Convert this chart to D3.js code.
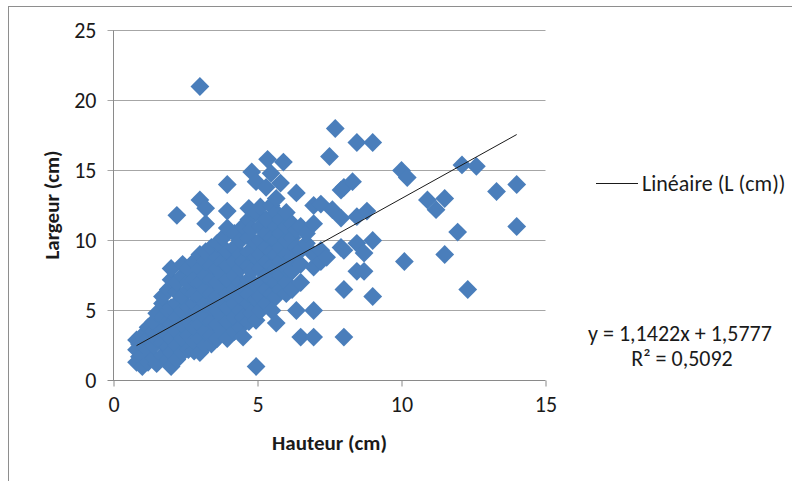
<!DOCTYPE html>
<html>
<head>
<meta charset="utf-8">
<script src="https://cdn.jsdelivr.net/npm/d3@7"></script>
<style>
    body { margin: 0; background: #fff; }
    text { font-family: Carlito, Calibri, Lato, sans-serif; fill: #1a1a1a; }
</style>
</head>
<body>
<svg id="chart" width="792" height="481"></svg>
<script>
    // hauteur (cm) values, each with the largeur (cm) values measured at that hauteur
    var hauteurs = [0.8, 0.9, 1.0, 1.2, 1.4, 1.5, 1.7, 1.9, 2.0, 2.2, 2.4, 2.6, 2.8, 3.0, 3.2, 3.4, 3.6, 3.8, 3.95,
        4.2, 4.4, 4.5, 4.7, 4.8, 4.95, 5.1, 5.3, 5.35, 5.47, 5.5, 5.65, 5.8, 5.9, 6.0, 6.2, 6.35, 6.5, 6.7, 6.95,
        7.2, 7.4, 7.5, 7.6, 7.7, 7.9, 8.0, 8.3, 8.45, 8.7, 8.8, 9.0, 10.0, 10.1, 10.2, 10.9, 11.2, 11.5, 11.95,
        12.1, 12.3, 12.6, 13.3, 14.0];

    var largeurs = [
        [1.3, 2.2, 2.9],
        [1.7, 2.6],
        [1.0, 1.8, 2.6, 3.2],
        [1.3, 2.2, 3.0, 3.8],
        [1.6, 2.5, 3.5, 4.2],
        [1.2, 3.0, 4.8],
        [1.8, 2.7, 3.6, 4.5, 5.5, 6.0],
        [1.5, 2.4, 3.2, 4.2, 5.0, 6.5],
        [1.0, 2.0, 3.0, 4.0, 5.2, 7.2, 8.0],
        [1.5, 2.5, 3.5, 4.5, 5.5, 6.3, 7.0, 11.8],
        [2.0, 3.0, 4.0, 5.0, 6.0, 7.5, 8.3],
        [2.2, 3.2, 4.2, 5.2, 6.5, 7.0, 8.0],
        [2.1, 2.8, 3.8, 4.8, 5.5, 6.2, 7.2, 8.5],
        [2.0, 3.0, 4.0, 5.0, 6.0, 7.0, 8.0, 9.0, 12.9, 21.0],
        [2.5, 3.5, 4.5, 5.5, 6.5, 7.5, 8.5, 9.2, 11.2, 12.3],
        [2.6, 3.2, 4.2, 5.2, 6.2, 7.2, 8.2, 9.5],
        [3.0, 4.0, 5.0, 6.0, 7.0, 8.0, 8.8, 9.8],
        [3.5, 4.5, 5.5, 6.5, 7.5, 8.5, 9.5, 10.2],
        [3.0, 4.2, 5.2, 6.2, 7.2, 8.2, 9.2, 10.9, 12.1, 14.0],
        [3.5, 4.5, 5.5, 6.5, 7.5, 8.5, 9.5, 10.5],
        [3.8, 5.0, 6.0, 7.0, 8.0, 9.0, 10.0],
        [3.1, 4.5, 6.5, 8.5, 11.0],
        [4.2, 5.5, 6.2, 7.2, 8.2, 9.2, 10.2, 11.5, 12.3],
        [4.8, 7.8, 10.8, 14.9],
        [1.0, 4.3, 5.8, 6.8, 8.8, 9.8, 12.0, 14.2],
        [5.0, 6.0, 7.0, 8.0, 9.0, 10.0, 11.0, 12.4],
        [5.5, 6.5, 7.5, 8.5, 9.5, 10.5, 11.5, 13.8],
        [15.8],
        [12.5, 14.8],
        [5.0, 6.2, 7.2, 8.2, 9.2, 10.2],
        [4.1, 6.0, 7.0, 8.0, 9.0, 10.0, 11.0, 12.0, 13.0],
        [6.5, 7.5, 8.5, 9.5, 10.5, 11.5, 14.1],
        [15.6],
        [6.2, 7.0, 8.0, 9.0, 10.0, 11.0, 12.0],
        [6.5, 7.8, 8.8, 10.2, 11.2],
        [5.0, 9.5, 10.8, 13.4],
        [3.1, 7.0, 8.3, 9.3, 11.0],
        [9.8, 10.5],
        [3.1, 5.0, 8.1, 9.0, 11.2, 12.5],
        [8.5, 9.3, 12.6],
        [8.8],
        [16.0],
        [12.2],
        [18.0],
        [9.5, 11.6, 13.6],
        [3.1, 6.5, 9.3, 13.8],
        [14.2],
        [7.8, 9.8, 11.7, 17.0],
        [7.8, 9.1],
        [12.1],
        [6.0, 10.0, 17.0],
        [15.0],
        [8.5],
        [14.5],
        [12.9],
        [12.2],
        [9.0, 13.0],
        [10.6],
        [15.4],
        [6.5],
        [15.3],
        [13.5],
        [11.0, 14.0]
    ];

    // linear trend as printed on the chart
    var pente = 1.1422, ordonnee = 1.5777, r2 = '0,5092';
    var xTicks = [0, 5, 10, 15];
    var yTicks = [0, 5, 10, 15, 20, 25];

    var points = [];
    hauteurs.forEach(function (h, i) {
        largeurs[i].forEach(function (l) { points.push({ h: h, l: l }); });
    });

    var svg = d3.select('#chart');

    // outer chart border
    svg.append('rect')
        .attr('x', 8.5).attr('y', 6.5)
        .attr('width', 800).attr('height', 500)
        .attr('fill', 'none')
        .attr('stroke', '#8e8e8e');

    var x = d3.scaleLinear().domain([0, 15]).range([113.5, 545.5]);
    var y = d3.scaleLinear().domain([0, 25]).range([380.5, 30.5]);

    // horizontal gridlines, with the tick stub on the left
    svg.append('g').selectAll('line')
        .data(yTicks)
        .enter().append('line')
        .attr('x1', x(0) - 6).attr('x2', x(15))
        .attr('y1', function (d) { return y(d); })
        .attr('y2', function (d) { return y(d); })
        .attr('stroke', function (d) { return d === 0 ? '#8a8a8a' : '#a6a6a6'; });

    svg.append('line')
        .attr('x1', x(0)).attr('x2', x(0))
        .attr('y1', y(25)).attr('y2', y(0))
        .attr('stroke', '#8a8a8a');

    var xAxis = d3.axisBottom(x).tickValues(xTicks).tickSize(6).tickPadding(8);
    var gx = svg.append('g').attr('transform', 'translate(0,' + y(0) + ')').call(xAxis);
    gx.select('.domain').remove();
    gx.selectAll('line').attr('stroke', '#8a8a8a');
    gx.selectAll('text').attr('font-size', 22).attr('fill', '#1a1a1a').attr('dy', '0.8em');

    var yAxis = d3.axisLeft(y).tickValues(yTicks).tickSize(0).tickPadding(17);
    var gy = svg.append('g').attr('transform', 'translate(' + x(0) + ',0)').call(yAxis);
    gy.select('.domain').remove();
    gy.selectAll('text').attr('font-size', 22).attr('fill', '#1a1a1a');

    // markers
    var r = 9.4;
    var diamond = 'M0,' + (-r) + 'L' + r + ',0L0,' + r + 'L' + (-r) + ',0Z';
    svg.append('g').selectAll('path')
        .data(points)
        .enter().append('path')
        .attr('d', diamond)
        .attr('transform', function (d) { return 'translate(' + x(d.h) + ',' + y(d.l) + ')'; })
        .attr('fill', '#4a7ebb');

    // trendline over the data range
    var hMin = d3.min(hauteurs), hMax = d3.max(hauteurs);
    svg.append('line')
        .attr('x1', x(hMin)).attr('y1', y(pente * hMin + ordonnee))
        .attr('x2', x(hMax)).attr('y2', y(pente * hMax + ordonnee))
        .attr('stroke', '#1a1a1a')
        .attr('stroke-width', 1);

    // axis titles
    svg.append('text')
        .attr('x', (x(0) + x(15)) / 2).attr('y', 450)
        .attr('text-anchor', 'middle')
        .attr('font-size', 21).attr('font-weight', 'bold')
        .text('Hauteur (cm)');

    svg.append('text')
        .attr('transform', 'translate(59,205) rotate(-90)')
        .attr('text-anchor', 'middle')
        .attr('font-size', 21).attr('font-weight', 'bold')
        .text('Largeur (cm)');

    // legend
    svg.append('line')
        .attr('x1', 596).attr('x2', 638)
        .attr('y1', 183.5).attr('y2', 183.5)
        .attr('stroke', '#1a1a1a');
    svg.append('text')
        .attr('x', 642).attr('y', 191)
        .attr('font-size', 22)
        .text('Linéaire (L (cm))');

    // equation label
    svg.append('text')
        .attr('x', 680).attr('y', 341)
        .attr('text-anchor', 'middle')
        .attr('font-size', 22)
        .text('y = ' + String(pente).replace('.', ',') + 'x + ' + String(ordonnee).replace('.', ','));
    svg.append('text')
        .attr('x', 682).attr('y', 366)
        .attr('text-anchor', 'middle')
        .attr('font-size', 22)
        .text('R² = ' + r2);
</script>
</body>
</html>
